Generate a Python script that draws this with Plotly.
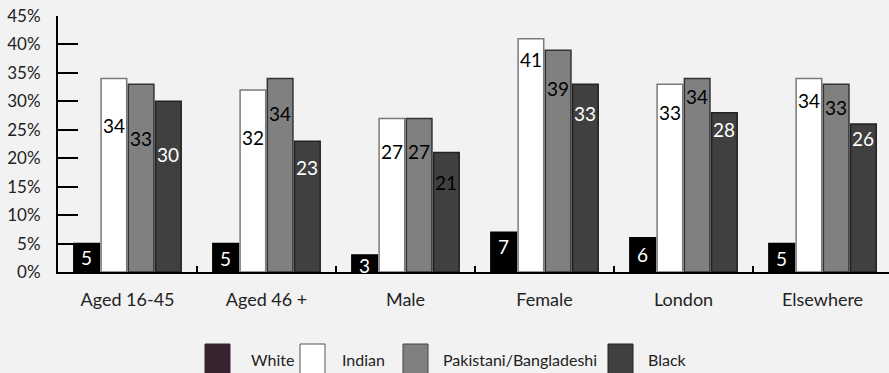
import plotly.graph_objects as go

# Share of each group (%) by category
categories = ["Aged 16-45", "Aged 46 +", "Male", "Female", "London", "Elsewhere"]
series_names = ["White", "Indian", "Pakistani/Bangladeshi", "Black"]
white = [5, 5, 3, 7, 6, 5]
indian = [34, 32, 27, 41, 33, 34]
pakistani = [33, 34, 27, 39, 34, 33]
black = [30, 23, 21, 33, 28, 26]
y_ticks = [0, 5, 10, 15, 20, 25, 30, 35, 40, 45]
y_tick_labels = ["0%", "5%", "10%", "15%", "20%", "25%", "30%", "35%", "40%", "45%"]

values = [white, indian, pakistani, black]

# Height (in axis units) at which each value label sits inside its bar
label_heights = [
    [2.5, 2.3, 1.2, 4.4, 3.0, 2.3],
    [25.7, 23.7, 21.1, 37.3, 28.1, 30.2],
    [23.4, 27.9, 21.1, 32.3, 30.9, 29.0],
    [20.7, 18.3, 15.8, 27.9, 25.0, 23.4],
]

FONT = "Lato, 'Noto Sans', sans-serif"
BG = "#f2f2f2"
fills = ["#000000", "#ffffff", "#808080", "#404040"]
outlines = ["#000000", "#7a7a7a", "#333333", "#222222"]
legend_fills = ["#35232f", "#ffffff", "#808080", "#404040"]
legend_outlines = ["#35232f", "#555555", "#444444", "#222222"]
label_colors = [
    ["white"] * 6,
    ["black"] * 6,
    ["black"] * 6,
    ["white", "white", "black", "white", "white", "white"],
]

BARGAP = 0.216
BARGROUPGAP = 0.06

fig = go.Figure()
for name, vals, fc, lc in zip(series_names, values, fills, outlines):
    fig.add_trace(go.Bar(
        x=categories, y=vals, name=name,
        marker=dict(color=fc, line=dict(color=lc, width=1.5)),
        showlegend=False, hoverinfo="skip",
    ))

# value labels, centred on each bar slot
n = len(series_names)
slot = (1 - BARGAP) / n
annotations = []
for s in range(n):
    off = (s - (n - 1) / 2) * slot
    for i in range(len(categories)):
        annotations.append(dict(
            x=i + off, y=label_heights[s][i], xref="x", yref="y",
            text=str(values[s][i]), showarrow=False,
            font=dict(family=FONT, size=19, color=label_colors[s][i]),
        ))

# legend drawn as swatches + text below the axis
L, T, H = 58, 16, 256
def px_x(p):
    return (p - L) / 831.0

def px_y(p):
    return (272 - p) / H

swatch_left = [205, 300, 403, 608]
text_left = [249, 340, 441, 646]
shapes = []
for s in range(n):
    shapes.append(dict(
        type="rect", xref="paper", yref="paper",
        x0=px_x(swatch_left[s]), x1=px_x(swatch_left[s] + 25),
        y0=px_y(344), y1=px_y(374),
        fillcolor=legend_fills[s], line=dict(color=legend_outlines[s], width=1),
    ))
    annotations.append(dict(
        x=px_x(text_left[s]), y=px_y(359), xref="paper", yref="paper",
        xanchor="left", yanchor="middle", text=series_names[s], showarrow=False,
        font=dict(family=FONT, size=16, color="#222222"),
    ))

fig.update_layout(
    width=889, height=373,
    margin=dict(l=L, r=0, t=T, b=101),
    paper_bgcolor=BG, plot_bgcolor=BG,
    barmode="group", bargap=BARGAP, bargroupgap=BARGROUPGAP,
    font=dict(family=FONT, size=15, color="#222222"),
    annotations=annotations, shapes=shapes,
    showlegend=False,
)
fig.update_xaxes(
    range=[-0.5, 5.478], showgrid=False, showline=True, linecolor="black",
    linewidth=2, ticks="inside", tickson="boundaries", ticklen=6,
    tickwidth=2, tickcolor="black", ticklabelstandoff=10,
    tickfont=dict(family=FONT, size=18, color="#222222"),
)
fig.update_yaxes(
    range=[0, 45], tickvals=y_ticks, ticktext=y_tick_labels,
    showgrid=False, zeroline=False, showline=True, linecolor="black",
    linewidth=2, ticks="inside", ticklen=20, tickwidth=2, tickcolor="black",
    ticklabelstandoff=12,
    tickfont=dict(family=FONT, size=17, color="#222222"),
)

fig.write_html("out.html")
